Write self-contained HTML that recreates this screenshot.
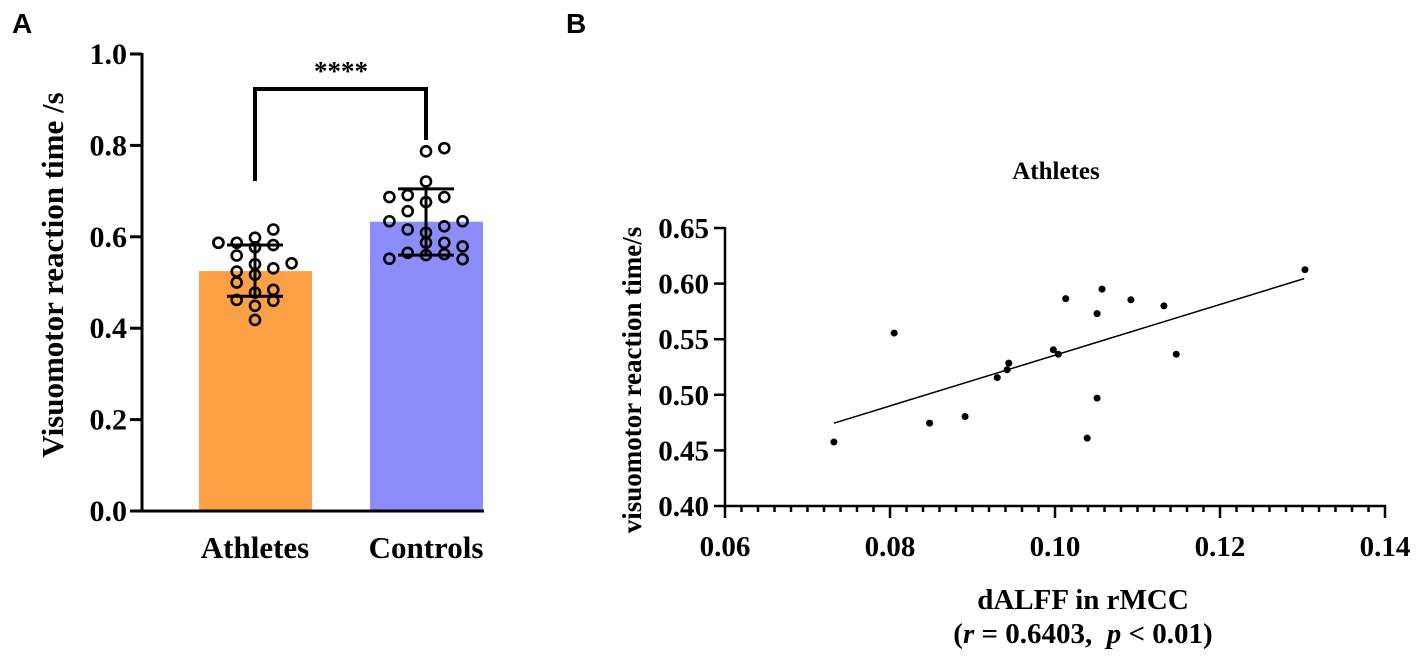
<!DOCTYPE html>
<html><head><meta charset="utf-8"><style>
body{margin:0;background:#fff}
svg{display:block}
text{font-family:"Liberation Serif",serif;font-weight:bold;fill:#000}
</style></head><body>
<svg id="fig" width="1418" height="656" viewBox="0 0 1418 656" xmlns="http://www.w3.org/2000/svg">
<text x="12" y="33" style="font-family:'Liberation Sans',sans-serif;font-size:28px">A</text>
<text x="566" y="33" style="font-family:'Liberation Sans',sans-serif;font-size:28px">B</text>
<g id="pa"></g>
<g id="pb"></g>
</svg>
<script>
// Panel A data
const groups=["Athletes","Controls"];
const means=[0.525,0.633];
const sdLow=[0.470,0.560];
const sdHigh=[0.582,0.705];
const athVals=[0.587,0.587,0.598,0.616,0.582,0.559,0.577,0.587,0.540,0.531,0.542,0.524,0.517,0.500,0.478,0.484,0.462,0.460,0.449,0.418];
const athJit=[-2,-1,0,1,1,-1,0,-2,0,1,2,-1,0,-1,0,1,-1,1,0,0];
const conVals=[0.787,0.794,0.721,0.687,0.691,0.676,0.687,0.656,0.634,0.634,0.616,0.623,0.609,0.587,0.587,0.565,0.560,0.562,0.579,0.552,0.551];
const conJit=[0,1,0,-2,-1,0,1,-1,-2,2,-1,1,0,0,1,-1,0,1,2,-2,2];
const aTicks=[0,0.2,0.4,0.6,0.8,1.0];
// Panel B data
const bx=[0.0732,0.0805,0.0848,0.0891,0.0930,0.0942,0.0944,0.0998,0.1004,0.1013,0.1039,0.1051,0.1051,0.1057,0.1092,0.1132,0.1147,0.1303];
const by=[0.4575,0.5555,0.4745,0.4805,0.5155,0.5225,0.5285,0.5405,0.5365,0.5865,0.4610,0.4970,0.5730,0.5950,0.5855,0.5800,0.5365,0.6125];
const fitX=[0.0732,0.1302];
const fitY=[0.4745,0.6045];
const bxTicks=[0.06,0.08,0.10,0.12,0.14];
const byTicks=[0.40,0.45,0.50,0.55,0.60,0.65];

const NS="http://www.w3.org/2000/svg";
function mk(p,t,a){const e=document.createElementNS(NS,t);for(const k in a)e.setAttribute(k,a[k]);p.appendChild(e);return e;}
const pa=document.getElementById('pa'),pb=document.getElementById('pb');
const ay=v=>511-v*457;
const axc=[255,426];
const colors=["#FBA044","#8C8CFB"];
groups.forEach((g,i)=>{
 let r=mk(pa,'rect',{x:axc[i]-56,y:ay(means[i]),width:113,height:ay(0)-ay(means[i]),fill:colors[i]});
 
 
 let t=mk(pa,'text',{x:axc[i],y:558,'text-anchor':'middle','font-size':31});t.textContent=g;
 
 
});
function pts(vals,jit,c,name){vals.forEach((v,k)=>{
 let e=mk(pa,'circle',{cx:c+jit[k]*18.3,cy:ay(v),r:5,fill:'none',stroke:'#000','stroke-width':2.6});
 
 
});}
pts(athVals,athJit,axc[0],'athlete-point');
pts(conVals,conJit,axc[1],'control-point');
groups.forEach((g,i)=>{
 let e=mk(pa,'path',{d:`M${axc[i]} ${ay(sdLow[i])}V${ay(sdHigh[i])}M${axc[i]-28} ${ay(sdLow[i])}h56M${axc[i]-28} ${ay(sdHigh[i])}h56`,stroke:'#000','stroke-width':3,fill:'none'});
 
 
});
let ax=mk(pa,'path',{d:`M142 ${ay(1)-1}V${ay(0)}H484`,stroke:'#000','stroke-width':3,fill:'none'});


aTicks.forEach(v=>{
 mk(pa,'line',{x1:130,x2:142,y1:ay(v),y2:ay(v),stroke:'#000','stroke-width':3});
 let t=mk(pa,'text',{x:127,y:ay(v)+10,'text-anchor':'end','font-size':30});t.textContent=v.toFixed(1);
 
 
});
let yl=mk(pa,'text',{transform:'translate(63,275) rotate(-90)','text-anchor':'middle','font-size':31});yl.textContent='Visuomotor reaction time /s';


let br=mk(pa,'path',{d:`M255 181V89H426V140`,stroke:'#000','stroke-width':4,fill:'none'});


let st=mk(pa,'text',{x:341,y:80,'text-anchor':'middle','font-size':27});st.textContent='****';



// Panel B
const X=v=>725+(v-0.06)/0.08*660;
const Y=v=>506-(v-0.40)/0.25*278;
let bax=mk(pb,'path',{d:`M725 ${Y(0.65)-1}V506H1386`,stroke:'#000','stroke-width':2.5,fill:'none'});


for(let k=0;k<=40;k++){const v=0.06+k*0.002;const maj=k%10==0;
 mk(pb,'line',{x1:X(v),x2:X(v),y1:506,y2:maj?518:512,stroke:'#000','stroke-width':2.5});}
bxTicks.forEach(v=>{let t=mk(pb,'text',{x:X(v),y:556,'text-anchor':'middle','font-size':29});t.textContent=v.toFixed(2);
 
 });
byTicks.forEach(v=>{mk(pb,'line',{x1:714,x2:725,y1:Y(v),y2:Y(v),stroke:'#000','stroke-width':2.5});
 let t=mk(pb,'text',{x:709,y:Y(v)+10,'text-anchor':'end','font-size':29});t.textContent=v.toFixed(2);
 
 });
let fl=mk(pb,'line',{x1:X(fitX[0]),y1:Y(fitY[0]),x2:X(fitX[1]),y2:Y(fitY[1]),stroke:'#000','stroke-width':1.5});


bx.forEach((v,k)=>{let c=mk(pb,'circle',{cx:X(v),cy:Y(by[k]),r:3.5,fill:'#000'});
 
 });
let tt=mk(pb,'text',{x:1056,y:179,'text-anchor':'middle','font-size':25});tt.textContent='Athletes';


let byl=mk(pb,'text',{transform:'translate(641,380) rotate(-90)','text-anchor':'middle','font-size':27});byl.textContent='visuomotor reaction time/s';


let bxl=mk(pb,'text',{x:1083,y:609,'text-anchor':'middle','font-size':29});bxl.textContent='dALFF in rMCC';


let cap=mk(pb,'text',{x:1083,y:643,'text-anchor':'middle','font-size':29,'xml:space':'preserve'});
cap.innerHTML='(<tspan font-style="italic">r</tspan> = 0.6403,\u00a0 <tspan font-style="italic">p</tspan> &lt; 0.01)';


</script>
</body></html>
